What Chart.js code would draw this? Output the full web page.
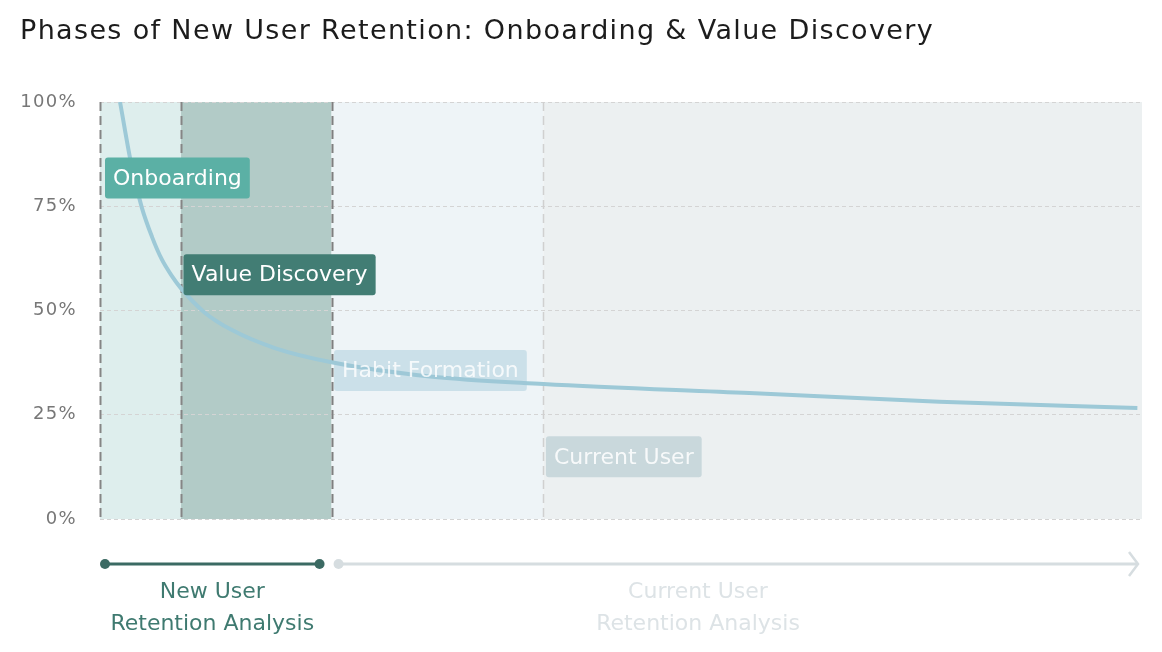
<!DOCTYPE html>
<html>
<head>
<meta charset="utf-8">
<script src="https://cdn.jsdelivr.net/npm/chart.js@4.4.1/dist/chart.umd.min.js"></script>
<style>
  html, body { margin: 0; padding: 0; background: #ffffff; }
  #wrap { width: 1162px; height: 652px; position: relative; }
</style>
</head>
<body>
<div id="wrap"><canvas id="c" width="1162" height="652"></canvas></div>
<script>
// ---- Data ----
const chartTitle = 'Phases of New User Retention: Onboarding & Value Discovery';
const days = [1.73, 2.74, 3.6, 4.5, 5.33, 6.2, 7.0, 9.0, 11.4, 15.1, 20.0, 28.5, 38.3, 56.1, 72.5, 89.6];
const retention = [100, 84.5, 74.8, 67.6, 62.3, 58.3, 55.3, 49.6, 45.3, 41.0, 37.6, 34.2, 32.4, 30.2, 28.1, 26.6];
const yTicks = [0, 25, 50, 75, 100];
const phaseNames = ['Onboarding', 'Value Discovery', 'Habit Formation', 'Current User'];
const phaseStart = [0, 7, 20, 38.3];
const phaseEnd = [7, 20, 38.3, 90];
const analysisLabels = [['New User', 'Retention Analysis'], ['Current User', 'Retention Analysis']];

// ---- Styles ----
const FONT = "'DejaVu Sans', 'Open Sans', sans-serif";
const phaseStyle = [
  { band: '#deeeed', box: '#5bb0a5', text: '#ffffff', line: '#858585', lw: 2, dash: [9, 5], labelY: 81.8 },
  { band: '#b2cbc7', box: '#427d74', text: '#ffffff', line: '#858585', lw: 2, dash: [9, 5], labelY: 58.6 },
  { band: '#eef4f7', box: 'rgba(160,200,214,0.45)', text: 'rgba(255,255,255,0.8)', line: '#7f7f7f', lw: 2, dash: [9, 5], labelY: 35.6 },
  { band: '#ecf0f1', box: 'rgba(150,180,190,0.40)', text: 'rgba(255,255,255,0.85)', line: '#d0d0d0', lw: 1.5, dash: [9, 5], labelY: 14.9 }
];

const spacingPlugin = {
  id: 'spacing',
  beforeDraw(chart) { chart.ctx.letterSpacing = '1.35px'; },
  beforeDatasetsDraw(chart) { chart.ctx.letterSpacing = '0px'; }
};

const phasePlugin = {
  id: 'phases',
  beforeDraw(chart) {
    const { ctx, chartArea: a, scales: { x } } = chart;
    ctx.save();
    for (let i = 0; i < phaseNames.length; i++) {
      const x0 = x.getPixelForValue(phaseStart[i]);
      const x1 = Math.min(x.getPixelForValue(phaseEnd[i]), a.right);
      ctx.fillStyle = phaseStyle[i].band;
      ctx.fillRect(x0, a.top, x1 - x0, a.bottom - a.top);
    }
    ctx.restore();
  },
  beforeDatasetsDraw(chart) {
    const { ctx, chartArea: a, scales: { x } } = chart;
    ctx.save();
    for (let i = 0; i < phaseNames.length; i++) {
      const px = Math.round(x.getPixelForValue(phaseStart[i])) + 0.5;
      const s = phaseStyle[i];
      ctx.strokeStyle = s.line;
      ctx.lineWidth = s.lw;
      ctx.setLineDash(s.dash);
      ctx.beginPath();
      ctx.moveTo(px, a.top);
      ctx.lineTo(px, a.bottom);
      ctx.stroke();
    }
    ctx.restore();
  },
  afterDatasetsDraw(chart) {
    const { ctx, scales: { x, y } } = chart;
    ctx.save();
    ctx.letterSpacing = '0px';
    ctx.font = "22px " + FONT;
    ctx.textBaseline = 'middle';
    ctx.textAlign = 'left';
    for (let i = 0; i < phaseNames.length; i++) {
      const s = phaseStyle[i];
      const bx = x.getPixelForValue(phaseStart[i]) + (i === 0 ? 5 : 2.5);
      const cy = y.getPixelForValue(s.labelY);
      const tw = ctx.measureText(phaseNames[i]).width;
      const bw = tw + 16, bh = 41;
      ctx.fillStyle = s.box;
      ctx.beginPath();
      ctx.roundRect(bx, cy - bh / 2, bw, bh, 3);
      ctx.fill();
      ctx.fillStyle = s.text;
      ctx.fillText(phaseNames[i], bx + 8, cy + 1);
    }
    ctx.restore();
  },
  afterDraw(chart) {
    const { ctx, chartArea: a, scales: { x } } = chart;
    const ty = 564;
    const dStart = a.left + 5;
    const dEnd = x.getPixelForValue(phaseEnd[1]) - 12;
    const lStart = x.getPixelForValue(phaseEnd[1]) + 7;
    const lEnd = a.right - 4;
    ctx.save();
    ctx.letterSpacing = '0px';
    ctx.strokeStyle = '#3b6a63';
    ctx.fillStyle = '#3b6a63';
    ctx.lineWidth = 3;
    ctx.beginPath(); ctx.moveTo(dStart, ty); ctx.lineTo(dEnd, ty); ctx.stroke();
    ctx.beginPath(); ctx.arc(dStart, ty, 5, 0, Math.PI * 2); ctx.fill();
    ctx.beginPath(); ctx.arc(dEnd, ty, 5, 0, Math.PI * 2); ctx.fill();
    ctx.strokeStyle = '#d6dde0';
    ctx.fillStyle = '#d6dde0';
    ctx.beginPath(); ctx.moveTo(lStart, ty); ctx.lineTo(lEnd, ty); ctx.stroke();
    ctx.beginPath(); ctx.arc(lStart, ty, 5, 0, Math.PI * 2); ctx.fill();
    ctx.lineWidth = 2.5;
    ctx.beginPath(); ctx.moveTo(lEnd - 9, ty - 12); ctx.lineTo(lEnd, ty); ctx.lineTo(lEnd - 9, ty + 12); ctx.stroke();
    ctx.font = "22px " + FONT;
    ctx.textAlign = 'center';
    ctx.textBaseline = 'middle';
    const c0 = (dStart + dEnd) / 2;
    const c1 = 698;
    ctx.fillStyle = '#3f7a70';
    ctx.fillText(analysisLabels[0][0], c0, 592);
    ctx.fillText(analysisLabels[0][1], c0, 624);
    ctx.fillStyle = '#dde3e6';
    ctx.fillText(analysisLabels[1][0], c1, 592);
    ctx.fillText(analysisLabels[1][1], c1, 624);
    ctx.restore();
  }
};

new Chart(document.getElementById('c'), {
  type: 'line',
  data: {
    datasets: [{
      label: 'Retention',
      data: days.map((d, i) => ({ x: d, y: retention[i] })),
      borderColor: '#9dc9d7',
      borderWidth: 4,
      pointRadius: 0,
      cubicInterpolationMode: 'monotone',
      fill: false
    }]
  },
  options: {
    responsive: false,
    animation: false,
    layout: { padding: { left: 20, right: 20, top: 0, bottom: 133 } },
    plugins: {
      legend: { display: false },
      tooltip: { enabled: false },
      title: {
        display: true,
        text: chartTitle,
        align: 'start',
        color: '#1c1c1c',
        font: { family: FONT, size: 27, weight: 'normal' },
        padding: { top: 16, bottom: 53.6 }
      }
    },
    scales: {
      x: {
        type: 'linear',
        min: 0,
        max: 90,
        display: false
      },
      y: {
        min: 0,
        max: 100,
        afterFit(scale) { scale.width = 80; },
        afterBuildTicks(scale) { scale.ticks = yTicks.map(v => ({ value: v })); },
        border: { display: false, dash: [4, 3] },
        grid: { color: '#d4d4d4', lineWidth: 1, drawTicks: false },
        ticks: {
          padding: 23,
          color: '#777777',
          font: { family: FONT, size: 18 },
          callback: v => v + '%'
        }
      }
    }
  },
  plugins: [spacingPlugin, phasePlugin]
});
</script>
</body>
</html>
